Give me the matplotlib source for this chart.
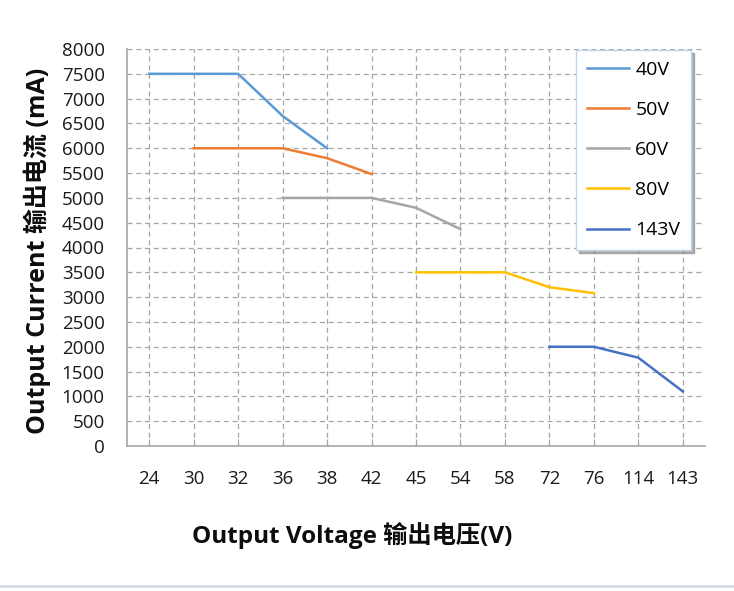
import matplotlib
matplotlib.use("Agg")
import matplotlib.pyplot as plt
import numpy as np
from matplotlib.lines import Line2D

plt.rcParams['font.family'] = ['Open Sans', 'Noto Sans CJK SC', 'DejaVu Sans']

categories = ["24", "30", "32", "36", "38", "42", "45", "54", "58", "72", "76", "114", "143"]
series_names = ["40V", "50V", "60V", "80V", "143V"]
series_x = {
    "40V": ["24", "30", "32", "36", "38"],
    "50V": ["30", "32", "36", "38", "42"],
    "60V": ["36", "38", "42", "45", "54"],
    "80V": ["45", "54", "58", "72", "76"],
    "143V": ["72", "76", "114", "143"],
}
series_y = {
    "40V": [7500, 7500, 7500, 6650, 6000],
    "50V": [6000, 6000, 6000, 5800, 5480],
    "60V": [5000, 5000, 5000, 4800, 4370],
    "80V": [3500, 3500, 3500, 3200, 3080],
    "143V": [2000, 2000, 1780, 1100],
}
colors = {"40V": "#5B9BD5", "50V": "#ED7D31", "60V": "#A5A5A5", "80V": "#FFC000", "143V": "#4472C4"}
yticks = list(range(0, 8001, 500))

fig = plt.figure(figsize=(7.34, 5.91), dpi=100)
ax = fig.add_axes([127/734, 1-446/591, (705-127)/734, (446-49)/591])

idx = {c: i for i, c in enumerate(categories)}
handles = []
for name in series_names:
    xs = [idx[c] for c in series_x[name]]
    h, = ax.plot(xs, series_y[name], color=colors[name], lw=1.8, label=name, solid_joinstyle='round')
    handles.append(h)

ax.set_xlim(-0.5, len(categories) - 0.5)
ax.set_ylim(0, 8000)
ax.set_xticks(range(len(categories)))
ax.set_xticklabels(categories, fontsize=13.5, color="#1a1a1a")
ax.set_yticks(yticks)
ax.set_yticklabels([str(v) for v in yticks], fontsize=13.5, color="#1a1a1a")
ax.tick_params(axis='x', direction='in', length=5, color='#A6A6A6', pad=17)
ax.tick_params(axis='y', length=0, pad=16)

for v in yticks[1:]:
    ax.axhline(v, color='#A6A6A6', lw=0.9, ls=(0, (4, 3)), zorder=0)
for i in range(len(categories)):
    ax.axvline(i, color='#A6A6A6', lw=0.9, ls=(0, (4, 3)), zorder=0)

for s in ['top', 'right']:
    ax.spines[s].set_visible(False)
for s in ['left', 'bottom']:
    ax.spines[s].set_color('#A6A6A6')
    ax.spines[s].set_linewidth(1.2)

leg = ax.legend(handles=handles, loc='upper left', bbox_to_anchor=((576-127)/578, 1 - (50-49)/397),
                fontsize=14, frameon=True, fancybox=False, handlelength=2.2, handletextpad=0.3,
                labelspacing=1.14, borderpad=0.55, borderaxespad=0,
                shadow={'color': '#7f7f7f', 'alpha': 0.6})
frame = leg.get_frame()
frame.set_edgecolor('#BDD7EE')
frame.set_linewidth(1.0)
frame.set_facecolor('white')
frame.set_alpha(1)

fig.text(352/734, 1-536/591, "Output Voltage 输出电压(V)", fontsize=17.5, fontweight='bold',
         ha='center', va='center', color='#0d0d0d')
fig.text(37/734, 1-251/591, "Output Current 输出电流 (mA)", fontsize=18, fontweight='bold',
         ha='center', va='center', rotation=90, color='#0d0d0d')

fig.add_artist(Line2D([0, 1], [1-586/591, 1-586/591], color='#D6DCE4', lw=2))

fig.savefig("out.png", dpi=100, facecolor='white')
